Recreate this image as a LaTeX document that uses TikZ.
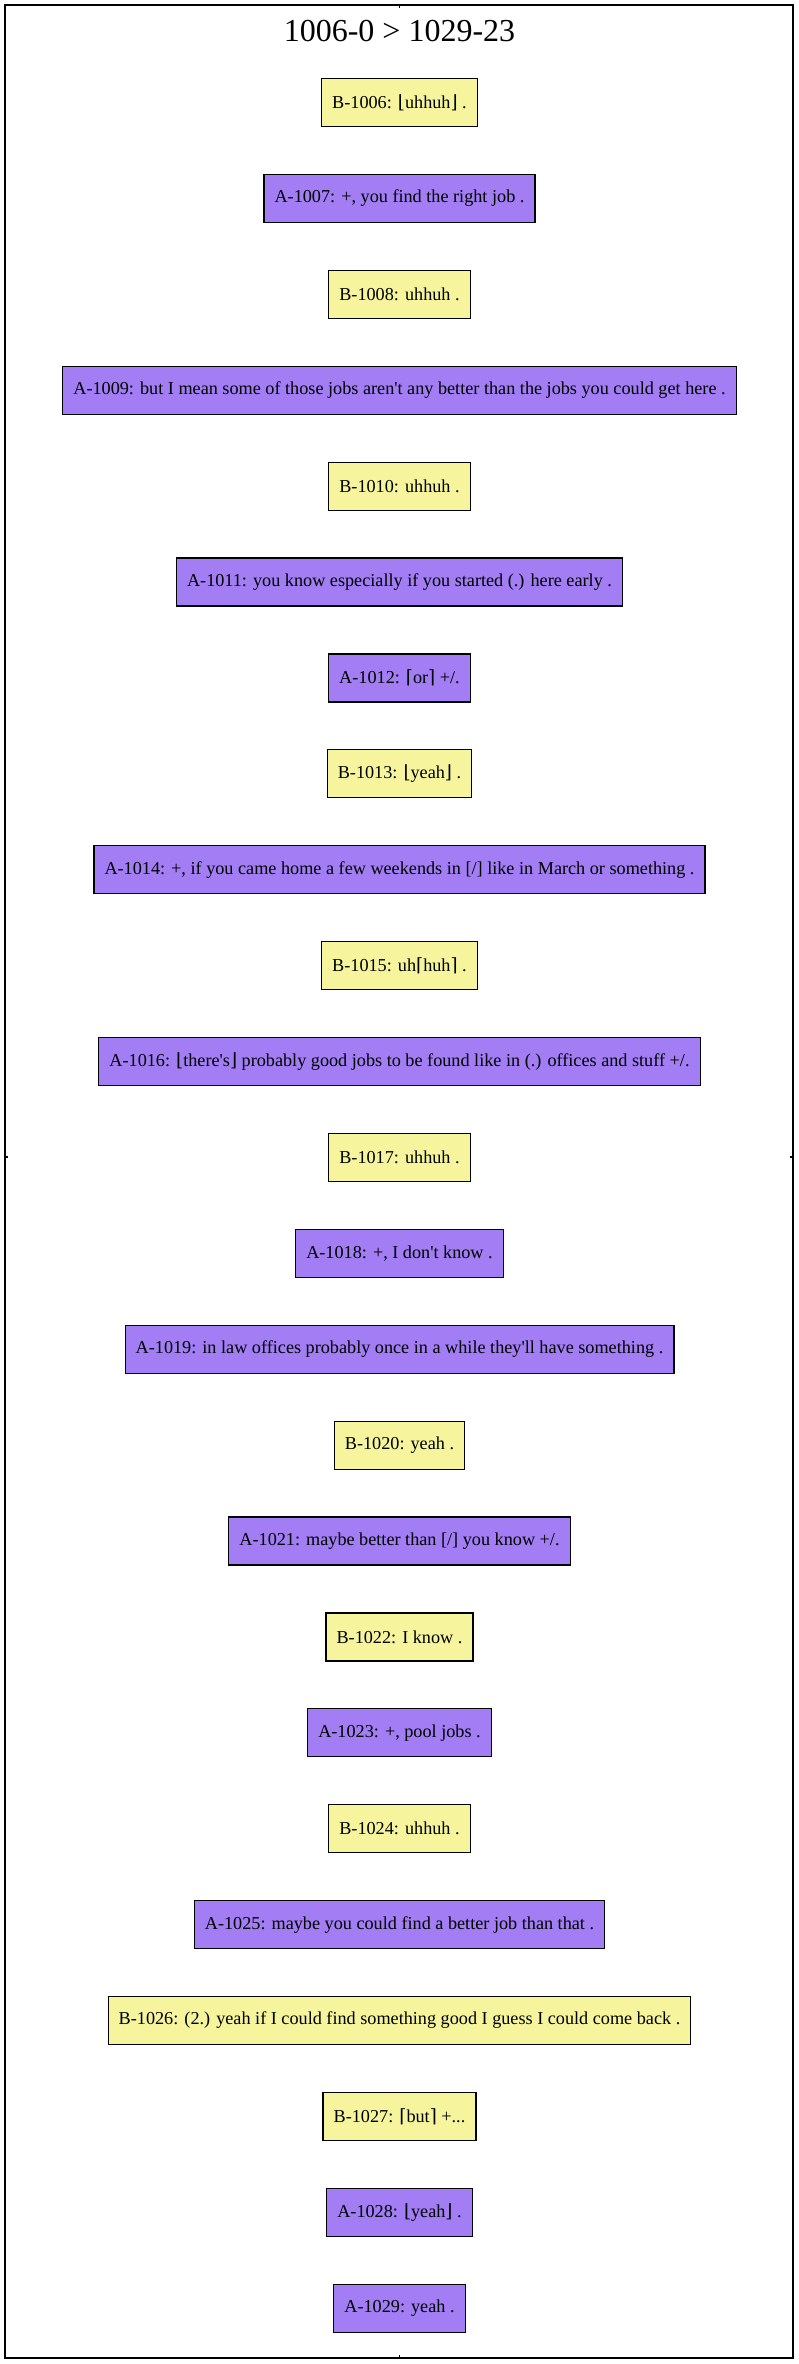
\documentclass[tikz,border=0pt]{standalone}
\usepackage{fontspec}
\setmainfont{Liberation Serif}[Ligatures=TeXOff]
\newfontfamily\brk{DejaVu Serif}
\newcommand{\lf}{{\brk\char"230A}}
\newcommand{\rf}{{\brk\char"230B}}
\newcommand{\lc}{{\brk\char"2308}}
\newcommand{\rc}{{\brk\char"2309}}
\definecolor{ylw}{HTML}{F6F59E}
\definecolor{prp}{HTML}{A27DF4}
\begin{document}
\begin{tikzpicture}[x=1pt,y=1pt,
  utt/.style={draw=black,line width=1.2pt,minimum height=48pt,inner xsep=10.6pt,inner ysep=0pt,
    font=\fontsize{18.2}{22}\selectfont,anchor=center},
  spkB/.style={utt,fill=ylw},
  spkA/.style={utt,fill=prp},
  frame/.style={draw=black,line width=1.5pt},
  tick/.style={draw=black,line width=1.5pt}]
\useasboundingbox (0,0) rectangle (799,-2364);
\draw[frame] (5,-5) rectangle (793,-2358);
\coordinate (t1) at (399.5,-5); \coordinate (t2) at (399.5,-8);
\draw[tick] (t1) -- (t2);
\coordinate (b1) at (399.5,-2358); \coordinate (b2) at (399.5,-2355);
\draw[tick] (b1) -- (b2);
\coordinate (l1) at (5,-1157); \coordinate (l2) at (8,-1157);
\draw[tick] (l1) -- (l2);
\coordinate (r1) at (793,-1157); \coordinate (r2) at (790,-1157);
\draw[tick] (r1) -- (r2);
\node[font=\fontsize{32}{36}\selectfont] (title) at (399.5,-31) {1006-0 > 1029-23};
\def\yy#1{-102.5-95.9*#1}
\node[spkB] (n0) at (399.5,{\yy{0}}) {B-1006: \lf uhhuh\rf\ .};
\node[spkA] (n1) at (399.5,{\yy{1}}) {A-1007: +, you find the right job .};
\node[spkB] (n2) at (399.5,{\yy{2}}) {B-1008: uhhuh .};
\node[spkA] (n3) at (399.5,{\yy{3}}) {A-1009: but I mean some of those jobs aren't any better than the jobs you could get here .};
\node[spkB] (n4) at (399.5,{\yy{4}}) {B-1010: uhhuh .};
\node[spkA] (n5) at (399.5,{\yy{5}}) {A-1011: you know especially if you started (.) here early .};
\node[spkA] (n6) at (399.5,{\yy{6}}) {A-1012: \lc or\rc\ +/.};
\node[spkB] (n7) at (399.5,{\yy{7}}) {B-1013: \lf yeah\rf\ .};
\node[spkA] (n8) at (399.5,{\yy{8}}) {A-1014: +, if you came home a few weekends in [/] like in March or something .};
\node[spkB] (n9) at (399.5,{\yy{9}}) {B-1015: uh\lc huh\rc\ .};
\node[spkA] (n10) at (399.5,{\yy{10}}) {A-1016: \lf there's\rf\ probably good jobs to be found like in (.) offices and stuff +/.};
\node[spkB] (n11) at (399.5,{\yy{11}}) {B-1017: uhhuh .};
\node[spkA] (n12) at (399.5,{\yy{12}}) {A-1018: +, I don't know .};
\node[spkA] (n13) at (399.5,{\yy{13}}) {A-1019: in law offices probably once in a while they'll have something .};
\node[spkB] (n14) at (399.5,{\yy{14}}) {B-1020: yeah .};
\node[spkA] (n15) at (399.5,{\yy{15}}) {A-1021: maybe better than [/] you know +/.};
\node[spkB] (n16) at (399.5,{\yy{16}}) {B-1022: I know .};
\node[spkA] (n17) at (399.5,{\yy{17}}) {A-1023: +, pool jobs .};
\node[spkB] (n18) at (399.5,{\yy{18}}) {B-1024: uhhuh .};
\node[spkA] (n19) at (399.5,{\yy{19}}) {A-1025: maybe you could find a better job than that .};
\node[spkB] (n20) at (399.5,{\yy{20}}) {B-1026: (2.) yeah if I could find something good I guess I could come back .};
\node[spkB] (n21) at (399.5,{\yy{21}}) {B-1027: \lc but\rc\ +...};
\node[spkA] (n22) at (399.5,{\yy{22}}) {A-1028: \lf yeah\rf\ .};
\node[spkA] (n23) at (399.5,{\yy{23}}) {A-1029: yeah .};
\end{tikzpicture}
\end{document}
